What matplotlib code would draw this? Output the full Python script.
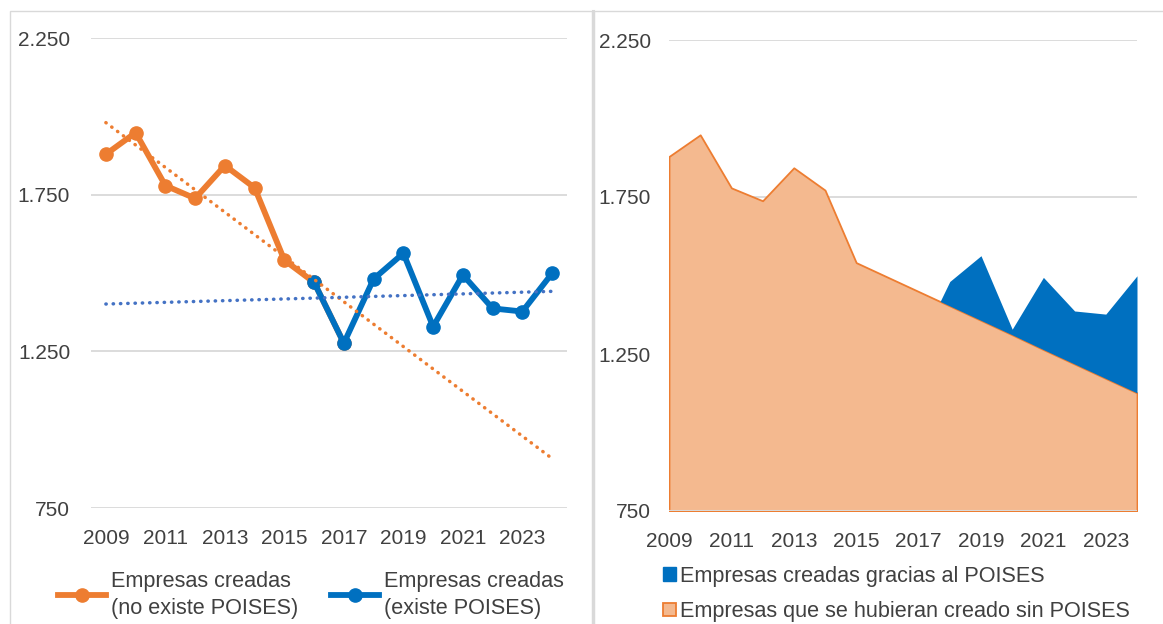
import numpy as np
import matplotlib.pyplot as plt
from matplotlib.patches import Rectangle, Patch
from matplotlib.lines import Line2D

plt.rcParams['font.family'] = ['Liberation Sans', 'DejaVu Sans']
plt.rcParams['font.size'] = 15

# Serie sin POISES (2009-2017) y serie con POISES (2016-2024)
anios_sin = [2009, 2010, 2011, 2012, 2013, 2014, 2015, 2016, 2017]
empresas_sin = [1879, 1948, 1779, 1738, 1843, 1772, 1541, 1470, 1276]
anios_con = [2016, 2017, 2018, 2019, 2020, 2021, 2022, 2023, 2024]
empresas_con = [1470, 1276, 1481, 1563, 1329, 1494, 1387, 1377, 1499]

# Panel derecho: empresas que se hubieran creado sin POISES
anios = [2009, 2010, 2011, 2012, 2013, 2014, 2015, 2016,
         2017, 2018, 2019, 2020, 2021, 2022, 2023, 2024]
sin_poises = [1879, 1948, 1779, 1738, 1843, 1772, 1541, 1495,
              1449, 1403, 1357, 1311, 1264, 1218, 1172, 1126]

yticks = [750, 1250, 1750, 2250]
xticks = [2009, 2011, 2013, 2015, 2017, 2019, 2021, 2023]

naranja = '#ED7D31'
azul = '#0070C0'
azul_tend = '#4472C4'
relleno = '#F4B98F'
gris = '#D9D9D9'
texto = '#404040'

fig = plt.figure(figsize=(11.63, 6.24), dpi=100)
W, H = 1163, 624

def caja(x0, y0, x1, y1):
    return [x0 / W, 1 - y1 / H, (x1 - x0) / W, (y1 - y0) / H]

ax1 = fig.add_axes(caja(91, 38, 567, 508))
ax2 = fig.add_axes(caja(669, 40, 1137, 511))

def formato(v):
    return f"{v:,.0f}".replace(',', '.')

for ax in (ax1, ax2):
    ax.set_ylim(750, 2250)
    ax.set_yticks(yticks)
    ax.set_yticklabels([formato(v) for v in yticks])
    ax.set_xticks(xticks)
    for s in ax.spines.values():
        s.set_visible(False)
    ax.tick_params(length=0, colors=texto, labelsize=15)
    ax.tick_params(axis='x', pad=15)
    ax.set_axisbelow(True)
ax1.tick_params(axis='y', pad=15)
ax2.tick_params(axis='y', pad=13)

# Panel izquierdo
ax1.set_xlim(2008.5, 2024.5)
ax1.grid(axis='y', color=gris, linewidth=1.3)

# Lineas de tendencia (ajuste lineal, como en Excel)
x_t = np.array([2009, 2024])
p_sin = np.polyfit(anios_sin, empresas_sin, 1)
p_con = np.polyfit(anios_con, empresas_con, 1)
ax1.plot(x_t, np.polyval(p_sin, x_t), color=naranja, lw=2.5,
         linestyle=(0, (0.1, 2.0)), dash_capstyle='round', zorder=4)
ax1.plot(x_t, np.polyval(p_con, x_t), color=azul_tend, lw=2.5,
         linestyle=(0, (0.1, 2.0)), dash_capstyle='round', zorder=4)

ax1.plot(anios_sin, empresas_sin, color=naranja, lw=4.2, marker='o',
         markersize=9.5, zorder=2)
ax1.plot(anios_con, empresas_con, color=azul, lw=4.2, marker='o',
         markersize=9.5, zorder=3)

h1 = Line2D([], [], color=naranja, lw=4.2, marker='o', markersize=9.5)
h2 = Line2D([], [], color=azul, lw=4.2, marker='o', markersize=9.5)
leg1 = fig.legend([h1, h2], ['Empresas creadas\n(no existe POISES)',
                             'Empresas creadas\n(existe POISES)'],
                  loc='center left', bbox_to_anchor=(58 / W, 1 - 595 / H),
                  ncol=2, frameon=False, handlelength=2.2, handletextpad=0.25,
                  columnspacing=1.5, labelcolor=texto, fontsize=15.6,
                  borderpad=0, borderaxespad=0)
for t in leg1.get_texts():
    t.set_linespacing(1.35)

# Panel derecho
ax2.set_xlim(2009, 2024)
ax2.grid(axis='y', color=gris, linewidth=1.3)
ax2.fill_between(anios, sin_poises, 750, facecolor=relleno,
                 edgecolor=naranja, linewidth=1.3, zorder=2)
cf = np.array(sin_poises[7:])
real = np.array(empresas_con)
ax2.fill_between(anios_con, cf, real, where=real > cf, interpolate=True,
                 color=azul, linewidth=0, zorder=3)
ax2.axhline(750, color=gris, lw=1.5, zorder=5)

p1 = Patch(facecolor=azul, edgecolor=azul)
p2 = Patch(facecolor=relleno, edgecolor=naranja, linewidth=1.3)
fig.legend([p1, p2], ['Empresas creadas gracias al POISES',
                      'Empresas que se hubieran creado sin POISES'],
           loc='center left', bbox_to_anchor=(663 / W, 1 - 594 / H),
           ncol=1, frameon=False, handlelength=0.6, handleheight=0.6,
           handletextpad=0.2, labelspacing=0.65, labelcolor=texto,
           fontsize=15.6, borderpad=0, borderaxespad=0)

# Bordes de los dos graficos
fig.add_artist(Rectangle((10 / W, -0.1), (582) / W, 1.1 - 11 / H,
                         transform=fig.transFigure, fill=False,
                         edgecolor=gris, lw=1))
fig.add_artist(Rectangle((594 / W, -0.1), 0.6, 1.1 - 11 / H,
                         transform=fig.transFigure, fill=False,
                         edgecolor=gris, lw=1))
fig.add_artist(Line2D([593 / W, 593 / W], [0, 1 - 11 / H],
                      transform=fig.transFigure, color=gris, lw=2.2))

fig.savefig('out.png', dpi=100)
